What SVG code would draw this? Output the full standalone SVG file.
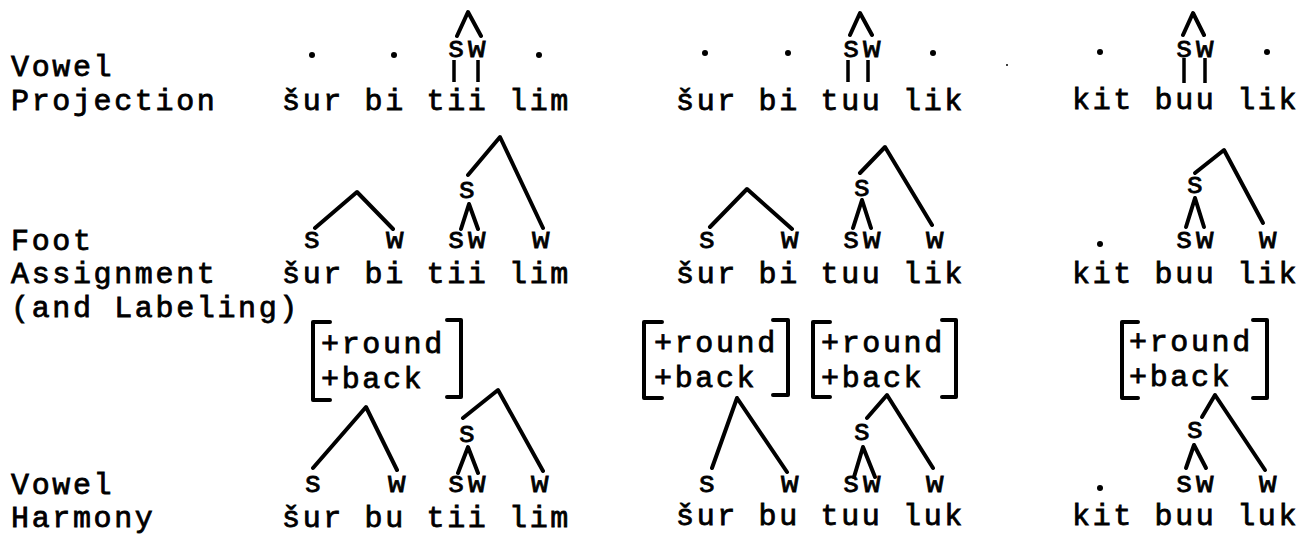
<svg xmlns="http://www.w3.org/2000/svg" width="1303" height="535" viewBox="0 0 1303 535">
<style>
.t{font-family:"Liberation Mono","Courier New",monospace;font-size:30px;letter-spacing:2.64px;fill:#000;stroke:#000;stroke-width:0.8px}
.c{text-anchor:middle}
.l{stroke:#000;stroke-width:4;fill:none;stroke-linecap:round;stroke-linejoin:round}
.v{stroke:#000;stroke-width:3.5;fill:none;stroke-linecap:butt}
.d{fill:#000}
</style>
<rect width="1303" height="535" fill="#fff"/>
<g id="labels">
<text class="t" x="11" y="76">Vowel</text>
<text class="t" x="11" y="110">Projection</text>
<text class="t" x="11" y="250">Foot</text>
<text class="t" x="11" y="283">Assignment</text>
<text class="t" x="11" y="317">(and Labeling)</text>
<text class="t" x="11" y="494">Vowel</text>
<text class="t" x="11" y="527">Harmony</text>
</g>
<g id="row1-col1">
<text class="t" x="282" y="110">šur bi tii lim</text>
<circle class="d" cx="312" cy="55" r="3"/>
<circle class="d" cx="394" cy="55" r="3"/>
<circle class="d" cx="539" cy="55" r="3"/>
<text class="t" x="447" y="57">sw</text>
</g>
<g id="row1-col2">
<text class="t" x="676" y="110">šur bi tuu lik</text>
<circle class="d" cx="705" cy="53" r="3"/>
<circle class="d" cx="788" cy="53" r="3"/>
<circle class="d" cx="933" cy="53" r="3"/>
<text class="t" x="842" y="57">sw</text>
<circle class="d" cx="1007" cy="65" r="1"/>
</g>
<g id="row1-col3">
<text class="t" x="1072" y="109">kit buu lik</text>
<circle class="d" cx="1100" cy="52" r="3"/>
<circle class="d" cx="1267" cy="52" r="3"/>
<text class="t" x="1175" y="57">sw</text>
</g>
<g id="row2-col1">
<text class="t" x="282" y="283">šur bi tii lim</text>
<text class="t c" x="313" y="248">s</text>
<text class="t c" x="396" y="248">w</text>
<text class="t" x="447" y="248">sw</text>
<text class="t c" x="468" y="198">s</text>
<text class="t c" x="542" y="248">w</text>
</g>
<g id="row2-col2">
<text class="t" x="676" y="283">šur bi tuu lik</text>
<text class="t c" x="708" y="248">s</text>
<text class="t c" x="791" y="248">w</text>
<text class="t" x="842" y="248">sw</text>
<text class="t c" x="863" y="196">s</text>
<text class="t c" x="936" y="248">w</text>
</g>
<g id="row2-col3">
<text class="t" x="1072" y="283">kit buu lik</text>
<circle class="d" cx="1100" cy="244" r="3"/>
<text class="t" x="1175" y="248">sw</text>
<text class="t c" x="1196" y="193">s</text>
<text class="t c" x="1269" y="248">w</text>
</g>
<g id="row3-col1">
<text class="t" x="321" y="353">+round</text>
<text class="t" x="321" y="388">+back</text>
<text class="t c" x="314" y="492">s</text>
<text class="t c" x="398" y="492">w</text>
<text class="t c" x="468" y="442">s</text>
<text class="t" x="447" y="492">sw</text>
<text class="t c" x="541" y="492">w</text>
<text class="t" x="282" y="527">šur bu tii lim</text>
</g>
<g id="row3-col2">
<text class="t" x="654" y="352">+round</text>
<text class="t" x="654" y="387">+back</text>
<text class="t" x="821" y="352">+round</text>
<text class="t" x="821" y="387">+back</text>
<text class="t c" x="708" y="492">s</text>
<text class="t c" x="791" y="492">w</text>
<text class="t c" x="863" y="440">s</text>
<text class="t" x="842" y="492">sw</text>
<text class="t c" x="936" y="492">w</text>
<text class="t" x="676" y="525">šur bu tuu luk</text>
</g>
<g id="row3-col3">
<text class="t" x="1129" y="351">+round</text>
<text class="t" x="1129" y="386">+back</text>
<text class="t c" x="1196" y="438">s</text>
<text class="t" x="1175" y="492">sw</text>
<text class="t c" x="1269" y="492">w</text>
<circle class="d" cx="1100" cy="488" r="3"/>
<text class="t" x="1072" y="525">kit buu luk</text>
</g>
<g id="connectors">
<path class="v" d="M454,60V82M478,60V82M848,60V82M868,60V82M1184,58V83M1205,58V83"/>
<path class="l" d="M457,36L468,12L481,36M850,35L860,13L872,35M1183,35L1193,13L1204,35"/>
<path class="l" d="M315,228L357,192L393,229M461,229L469,204L478,229M468,175L500,137L543,228"/>
<path class="l" d="M710,227L747,189L792,229M853,228L862,200L871,228M860,173L885,147L932,225"/>
<path class="l" d="M1186,227L1195,198L1204,227M1195,173L1224,150L1263,223"/>
<path class="l" d="M330,322H313V400H330M447,320H461V397H447"/>
<path class="l" d="M662,322H644V398H662M773,320H788V395H773M830,322H813V397H830M942,320H956V397H942"/>
<path class="l" d="M1138,322H1122V398H1138M1253,320H1267V398H1253"/>
<path class="l" d="M313,468L366,407L397,470M463,418L498,390L543,471M458,473L468,447L478,473"/>
<path class="l" d="M712,468L737,398L787,472M867,418L887,395L933,468M854,477L863,447L875,477"/>
<path class="l" d="M1202,417L1215,395L1265,470M1186,468L1194,445L1206,468"/>
</g>
</svg>
